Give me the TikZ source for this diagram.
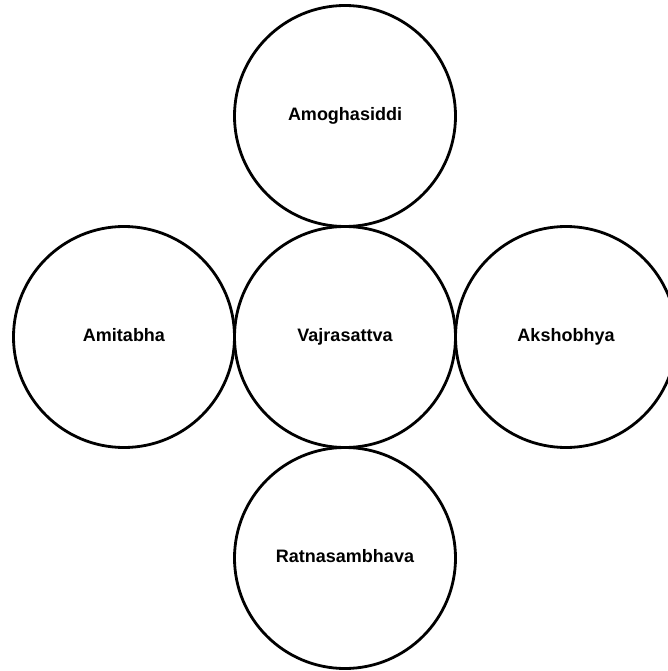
\documentclass[tikz,border=0pt]{standalone}
\usepackage{fontspec}
\setmainfont{Liberation Sans}
\usetikzlibrary{positioning}
\tikzset{
deity/.style = {draw, circle, line width=2.8pt, minimum size=221pt, inner sep=0pt, text height=2ex, text depth=0.2ex, font=\fontsize{18}{21}\selectfont\bfseries}
}

\begin{document}
\begin{tikzpicture}[auto, node distance=221pt]
  \useasboundingbox (0,0) rectangle (668pt,-671pt);
  \node [deity]                 (vajra)   at (345pt,-337pt) {Vajrasattva};
  \node [deity, above of=vajra] (amogha)  {Amoghasiddi};
  \node [deity, left of=vajra]  (amita)   {Amitabha};
  \node [deity, right of=vajra] (akshob)  {Akshobhya};
  \node [deity, below of=vajra] (ratna)   {Ratnasambhava};
\end{tikzpicture}
\end{document}
